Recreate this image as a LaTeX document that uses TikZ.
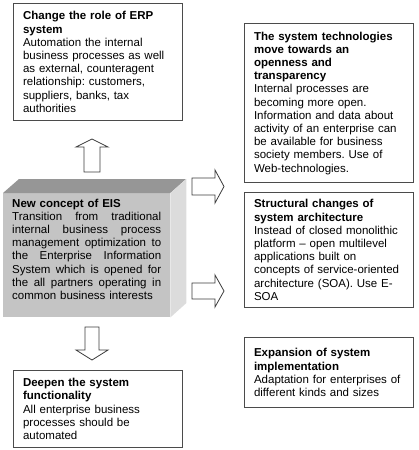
\documentclass[tikz,border=0pt]{standalone}
\usepackage{fontspec}
\setmainfont{Liberation Sans}
\frenchspacing
\definecolor{boxline}{RGB}{75,75,75}
\definecolor{arrline}{RGB}{60,60,60}
\definecolor{eistop}{RGB}{150,150,150}
\definecolor{eisfront}{RGB}{196,196,196}
\definecolor{eisside}{RGB}{220,220,220}
\newcommand{\jline}[1]{\leavevmode\hbox to 149pt{#1}}
\begin{document}
\begin{tikzpicture}[x=1pt,y=-1pt,
  font=\fontsize{11.5}{13.2}\selectfont,
  box/.style={draw=boxline, line width=1.1pt, anchor=north west, align=left,
    inner xsep=9.5pt, inner ysep=0pt, text width=150pt, minimum width=169pt},
  blockarrow/.style={draw=arrline, line width=0.8pt, fill=white, line join=miter}]
\useasboundingbox (0,0) rectangle (418,450);

% boxes
\node[box, minimum height=117pt] (erp) at (13,3)
 {\textbf{Change the role of ERP}\\\textbf{system}\\
  Automation the internal\\business processes as well\\as external, counteragent\\
  relationship: customers,\\suppliers, banks, tax\\authorities};

\node[box, minimum height=159pt] (tech) at (244,23)
 {\textbf{The system technologies}\\\textbf{move towards an}\\\textbf{openness and}\\\textbf{transparency}\\
  Internal processes are\\becoming more open.\\Information and data about\\
  activity of an enterprise can\\be available for business\\society members. Use of\\Web-technologies.};

\node[box, minimum height=115pt] (arch) at (244,192)
 {\textbf{Structural changes of}\\\textbf{system architecture}\\
  Instead of closed monolithic\\platform -- open multilevel\\applications built on\\
  concepts of service-oriented\\architecture (SOA). Use E-\\SOA};

\node[box, minimum height=70pt] (impl) at (244,337)
 {\textbf{Expansion of system}\\\textbf{implementation}\\
  Adaptation for enterprises of\\different kinds and sizes};

\node[box, minimum height=77pt] (deep) at (13,370)
 {\textbf{Deepen the system}\\\textbf{functionality}\\
  All enterprise business\\processes should be\\automated};

% 3D EIS block
\node[fill=eisfront, draw=none, anchor=north west, minimum width=167pt, minimum height=124pt, inner sep=0pt] (eis) at (3,193) {};
\fill[eistop] (eis.north west) -- ++(16,-14) -- ++(167,0) -- (eis.north east) -- cycle;
\fill[eisside] (eis.north east) -- ++(16,-14) -- ++(0,124) -- (eis.south east) -- cycle;
\node[anchor=north west, inner sep=0pt, text width=149pt, align=left] (eistext) at (12,198.5)
 {\textbf{New concept of EIS}\\
  \jline{Transition\hfill from\hfill traditional}\\
  \jline{internal\hfill business\hfill process}\\
  \jline{management\hfill optimization\hfill to}\\
  \jline{the\hfill Enterprise\hfill Information}\\
  \jline{System\hfill which\hfill is\hfill opened\hfill for}\\
  \jline{the\hfill all\hfill partners\hfill operating\hfill in}\\
  common business interests};

% block arrows
% up arrow (EIS -> ERP)
\draw[blockarrow] (84,172) -- (84,147) -- (76,147) -- (92,139) -- (108,147) -- (100,147) -- (100,172) -- cycle;
% down arrow (EIS -> Deepen)
\draw[blockarrow] (85,327) -- (85,350) -- (76,350) -- (92,360) -- (108,350) -- (99,350) -- (99,327) -- cycle;
% right arrow 1 (EIS -> tech)
\draw[blockarrow] (192,178) -- (215,178) -- (215,170) -- (224,186.5) -- (215,203) -- (215,195) -- (192,195) -- cycle;
% right arrow 2 (EIS -> arch)
\draw[blockarrow] (192,283) -- (215,283) -- (215,275) -- (224,291) -- (215,307) -- (215,299) -- (192,299) -- cycle;
\end{tikzpicture}
\end{document}
